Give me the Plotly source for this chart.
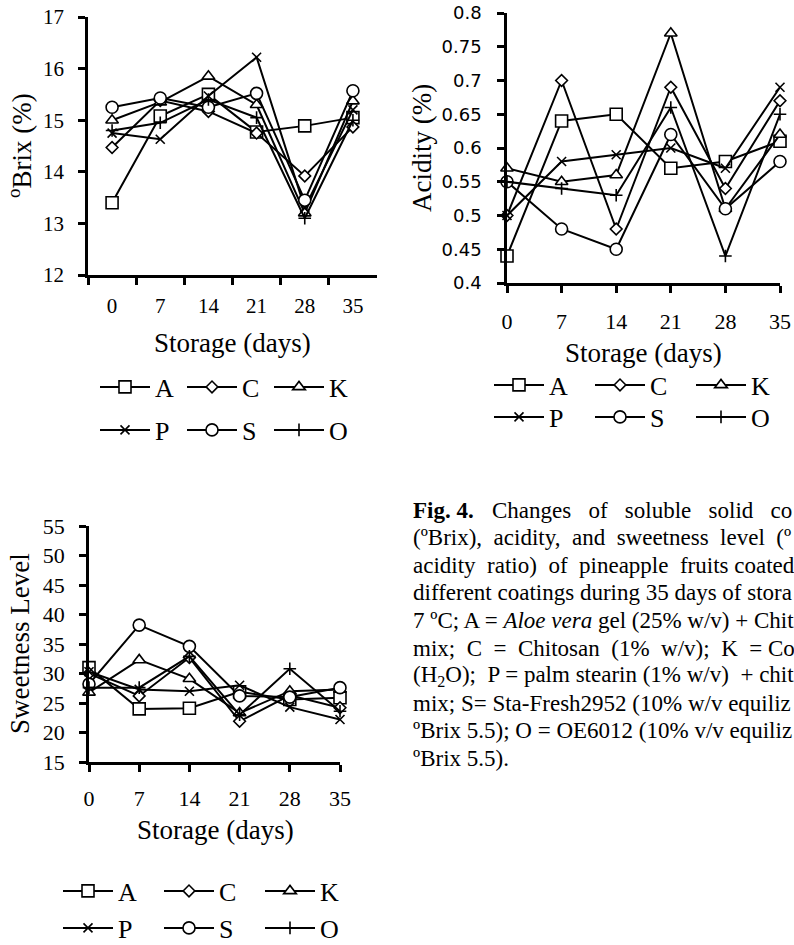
import plotly.graph_objects as go

# ---------------- data ----------------
days = [0, 7, 14, 21, 28, 35]
day_labels = ["0", "7", "14", "21", "28", "35"]
series_names = ["A", "C", "K", "P", "S", "O"]

brix_A = [13.4, 15.08, 15.5, 14.77, 14.89, 15.05]
brix_C = [14.47, 15.38, 15.17, 14.75, 13.92, 14.87]
brix_K = [15.0, 15.35, 15.85, 15.3, 13.2, 15.37]
brix_P = [14.75, 14.63, 15.47, 16.22, 13.3, 15.2]
brix_S = [15.25, 15.43, 15.25, 15.52, 13.45, 15.57]
brix_O = [14.8, 14.95, 15.4, 15.05, 13.1, 15.0]

acid_A = [0.44, 0.64, 0.65, 0.57, 0.58, 0.61]
acid_C = [0.50, 0.70, 0.48, 0.69, 0.54, 0.67]
acid_K = [0.57, 0.55, 0.56, 0.77, 0.51, 0.62]
acid_P = [0.50, 0.58, 0.59, 0.60, 0.57, 0.69]
acid_S = [0.55, 0.48, 0.45, 0.62, 0.51, 0.58]
acid_O = [0.55, 0.54, 0.53, 0.66, 0.44, 0.65]

sweet_A = [31.0, 24.0, 24.1, 26.9, 25.6, 25.9]
sweet_C = [30.0, 26.2, 32.7, 21.9, 26.3, 24.2]
sweet_K = [26.8, 32.3, 29.1, 23.3, 27.0, 27.3]
sweet_P = [30.3, 27.3, 27.0, 28.0, 24.3, 22.2]
sweet_S = [28.2, 38.2, 34.6, 26.2, 26.0, 27.6]
sweet_O = [27.6, 27.6, 32.9, 23.0, 30.8, 23.6]

brix = [brix_A, brix_C, brix_K, brix_P, brix_S, brix_O]
acid = [acid_A, acid_C, acid_K, acid_P, acid_S, acid_O]
sweet = [sweet_A, sweet_C, sweet_K, sweet_P, sweet_S, sweet_O]

N = "\u00a0"
D = N + N
caption_lines = [
    f"(\u00baBrix),{D}acidity,{D}and{D}sweetness{D}level{D}(\u00ba",
    f"acidity{D}ratio){D}of{D}pineapple{D}fruits coated",
    "different coatings during 35 days of stora",
    "7 \u00baC; A = <i>Aloe vera</i> gel (25% w/v) + Chit",
    f"mix;{D}C{D}={D}Chitosan{D}(1%{D}w/v);{D}K{D}= Co",
    f"(H<sub>2</sub>O);{D}P = palm stearin (1% w/v){D}+ chit",
    "mix; S= Sta-Fresh2952 (10% w/v equiliz",
    "\u00baBrix 5.5); O = OE6012 (10% v/v equiliz",
    "\u00baBrix 5.5).",
]

# ---------------- styling ----------------
W, H = 794, 945
SERIF = "Liberation Serif"
SANS = "DejaVu Sans"

symbols = {"A": "square", "C": "diamond", "K": "triangle-up",
           "P": "x-thin", "S": "circle", "O": "cross-thin"}
msize = {"A": 12, "C": 9, "K": 11, "P": 9, "S": 12, "O": 9}


def dx(px):
    return px / W


def dy(px):
    return 1 - px / H


fig = go.Figure()

charts = [
    (brix, "x", "y", day_labels, ["legend", "legend2"]),
    (acid, "x2", "y2", days, ["legend3", "legend4"]),
    (sweet, "x3", "y3", days, ["legend5", "legend6"]),
]

for vals, xa, ya, xv, legs in charts:
    for i, name in enumerate(series_names):
        fig.add_trace(go.Scatter(
            x=xv, y=vals[i], name=name, mode="lines+markers",
            xaxis=xa, yaxis=ya, cliponaxis=False,
            legend=legs[0] if i < 3 else legs[1],
            line=dict(color="black", width=2),
            marker=dict(symbol=symbols[name], size=msize[name], color="white",
                        line=dict(color="black", width=1.6)),
        ))

axis_common = dict(showline=True, linecolor="black", linewidth=2.5,
                   ticks="outside", ticklen=7, tickwidth=2.5, tickcolor="black",
                   showgrid=False, zeroline=False)

fig.update_layout(
    width=W, height=H,
    margin=dict(l=0, r=0, t=0, b=0, autoexpand=False),
    paper_bgcolor="white", plot_bgcolor="white",
    font=dict(family=SERIF, color="black"),
    xaxis=dict(domain=[dx(88), dx(377)], anchor="y", type="category",
               range=[-0.5, 5.5], tickson="boundaries",
               tickfont=dict(family=SERIF, size=21), ticklabelstandoff=10,
               **axis_common),
    yaxis=dict(domain=[dy(275), dy(17)], anchor="x", range=[12, 17], dtick=1,
               tickfont=dict(family=SERIF, size=21), ticklabelstandoff=10,
               **axis_common),
    xaxis2=dict(domain=[dx(507), dx(780)], anchor="y2", range=[0, 35],
                tickvals=days, tickfont=dict(family=SERIF, size=22),
                ticklabelstandoff=10, **axis_common),
    yaxis2=dict(domain=[dy(283), dy(13)], anchor="x2", range=[0.4, 0.8],
                dtick=0.05, tick0=0.4, tickfont=dict(family=SANS, size=18),
                ticklabelstandoff=12, **axis_common),
    xaxis3=dict(domain=[dx(89), dx(340)], anchor="y3", range=[0, 35],
                tickvals=days, tickfont=dict(family=SERIF, size=22),
                ticklabelstandoff=8, **axis_common),
    yaxis3=dict(domain=[dy(762), dy(526)], anchor="x3", range=[15, 55],
                dtick=5, tickfont=dict(family=SERIF, size=22),
                ticklabelstandoff=10, **axis_common),
)

# legends
leg_common = dict(orientation="h", xanchor="left", yanchor="middle",
                  font=dict(family=SERIF, size=26), bgcolor="rgba(0,0,0,0)",
                  itemwidth=50, traceorder="normal", borderwidth=0,
                  entrywidthmode="pixels")
legend_pos = {
    "legend": (95, 387, 22), "legend2": (95, 430, 22),
    "legend3": (489, 385, 36), "legend4": (489, 417, 36),
    "legend5": (58, 891, 36), "legend6": (58, 928, 36),
}
for key, (lx, ly, ew) in legend_pos.items():
    fig.update_layout({key: dict(x=dx(lx), y=dy(ly), entrywidth=ew, **leg_common)})

annos = []
# axis titles
for cx, cy in [(232, 343), (643, 353), (215, 830)]:
    annos.append(dict(text="Storage (days)", x=dx(cx), y=dy(cy), xref="paper", yref="paper",
                      showarrow=False, xanchor="center", yanchor="middle",
                      font=dict(family=SERIF, size=27)))
for txt, cx, cy in [("<sup>o</sup>Brix (%)", 20, 146), ("Acidity (%)", 422, 148),
                    ("Sweetness Level", 20, 644)]:
    annos.append(dict(text=txt, x=dx(cx), y=dy(cy), xref="paper", yref="paper",
                      showarrow=False, xanchor="center", yanchor="middle", textangle=-90,
                      font=dict(family=SERIF, size=27)))

# caption
CAP_X = 411
annos.append(dict(text="<b>Fig. 4.</b>", x=dx(CAP_X), y=dy(510), xref="paper", yref="paper",
                  showarrow=False, xanchor="left", yanchor="middle",
                  font=dict(family=SERIF, size=23)))
sp = N * 3
annos.append(dict(text=sp.join(["Changes", "of", "soluble", "solid", "co"]),
                  x=dx(490), y=dy(510), xref="paper", yref="paper",
                  showarrow=False, xanchor="left", yanchor="middle",
                  font=dict(family=SERIF, size=23)))
for i, line in enumerate(caption_lines):
    annos.append(dict(text=line, x=dx(CAP_X), y=dy(510 + 27.6 * (i + 1)),
                      xref="paper", yref="paper", showarrow=False,
                      xanchor="left", yanchor="middle",
                      font=dict(family=SERIF, size=23)))

fig.update_layout(annotations=annos)

fig.write_html("out.html")
